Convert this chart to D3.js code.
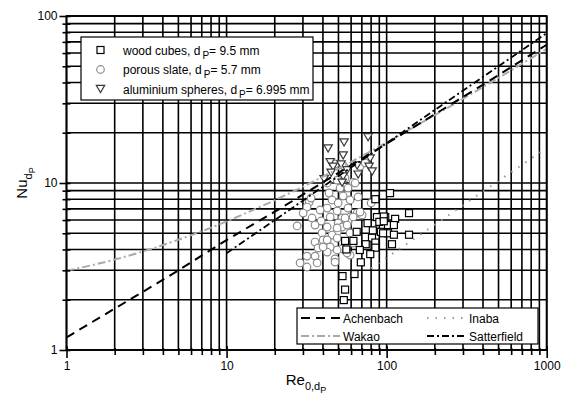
<!DOCTYPE html>
<html><head><meta charset="utf-8">
<script src="https://cdn.jsdelivr.net/npm/d3@7"></script>
<style>body{margin:0;background:#fff;} text{font-family:"Liberation Sans",Arial,sans-serif;fill:#000;}</style>
</head><body><svg id="c" width="566" height="396"></svg>
<script>
// ---- data ----
const woodRe = [105,138,85,87,98,113,76,90,102,111,65,82,92,102,111,138,81,55,62,74,85,108,85,56,68,79,69,53,63,55,54,96,96,95];
const woodNu = [8.7,6.6,8.0,6.25,6.25,6.1,5.75,5.85,5.6,5.6,5.1,5.2,5.1,5.0,4.9,4.9,4.7,4.5,4.5,4.3,4.4,4.3,4.1,4.0,3.97,3.75,3.35,2.77,2.85,2.3,1.99,6.3,5.9,5.0];

const slateRe = [47.6,54.2,68.3,73.4,42.5,49.1,55.0,61.8,43.7,51.2,57.4,53.5,66.4,59.1,45.6,32.8,49.8,80.0,33.7,31.8,42.5,57.4,38.4,49.1,30.1,65.4,34.2,44.4,52.7,59.1,70.3,68.3,39.0,57.4,49.8,27.6,35.7,42.5,52.7,49.1,84.8,39.5,45.6,59.1,40.1,35.7,42.5,49.1,44.4,37.3,52.7,61.8,59.1,31.8,35.7,47.6,42.5,49.1,56.6,28.8,36.8,31.8,47.6,40.1,55.0,61.8,56.6,49.1,63.6];
const slateNu = [13.0,12.6,12.6,13.2,10.0,10.4,10.7,10.1,8.71,9.33,9.33,8.36,8.25,7.91,7.91,7.69,7.59,7.59,8.13,7.18,7.08,7.08,6.89,6.80,6.61,6.61,6.17,6.26,6.17,6.26,6.43,6.70,5.92,5.84,5.76,5.53,5.60,5.45,5.45,5.09,5.23,5.02,4.88,5.02,4.56,4.43,4.56,4.68,4.14,4.08,4.03,4.37,3.70,3.65,3.65,3.51,3.86,3.97,3.81,3.32,3.32,3.14,3.36,4.14,6.17,6.26,5.60,5.38,10.0];

const alRe = [76.6,54.2,43.1,53.5,78.9,44.4,51.9,46.3,65.4,77.7,45.0,56.6,66.4,53.5,52.7,40.7,81.2];
const alNu = [18.9,17.6,16.2,14.7,14.1,13.4,13.0,12.6,12.8,12.6,11.6,12.0,11.3,11.0,10.1,10.6,11.8];

const achRe = [1,2,5,10,20,50,100,200,500,1000];
const achNu = [1.19,1.77,3.0,4.55,6.73,11.5,17.2,25.8,44.3,67.3];
const wakRe = [1,2,5,10,20,50,100,200,500,1000];
const wakNu = [2.98,3.48,4.57,5.89,7.89,12.2,17.5,25.5,42.6,63.6];
const satRe = [10,20,50,100,200,500,1000];
const satNu = [3.8,6.0,11.0,17.3,27.4,50.0,79];
const inaRe = [80,100,200,500,1000];
const inaNu = [3.08,3.57,5.63,10.3,16.2];

const xMajor = [1,10,100,1000];
const yMajor = [1,10,100];

// ---- drawing ----
const svg = d3.select("#c");
const x = d3.scaleLog().domain([1,1000]).range([66.5,546.7]);
const y = d3.scaleLog().domain([1,100]).range([350,16]);

const xAll = [], yAll = [];
[1,10,100].forEach(b => { for (let k=1;k<10;k++) xAll.push(b*k); });
xAll.push(1000);
[1,10].forEach(b => { for (let k=1;k<10;k++) yAll.push(b*k); });
yAll.push(100);

const grid = svg.append("g").attr("stroke","#000").attr("stroke-width",1.6);
grid.selectAll("line.v").data(xAll).join("line")
  .attr("x1",d=>x(d)).attr("x2",d=>x(d)).attr("y1",y(100)).attr("y2",y(1));
grid.selectAll("line.h").data(yAll).join("line")
  .attr("y1",d=>y(d)).attr("y2",d=>y(d)).attr("x1",x(1)).attr("x2",x(1000));

// curves
const line = (xs, ys) => d3.line().x((d,i)=>x(xs[i])).y((d,i)=>y(ys[i])).curve(d3.curveMonotoneX)(xs);
const curves = [
  {xs:wakRe, ys:wakNu, color:"#aaaaaa", dash:"8,3,2,3", w:2},
  {xs:inaRe, ys:inaNu, color:"#999999", dash:"1.5,7", w:2},
  {xs:satRe, ys:satNu, color:"#000", dash:"7,3,2,3", w:1.8},
  {xs:achRe, ys:achNu, color:"#000", dash:"9,6", w:2}
];

// markers
const mk = svg.append("g");
mk.selectAll("circle").data(slateRe).join("circle")
  .attr("cx",(d,i)=>x(d)).attr("cy",(d,i)=>y(slateNu[i])).attr("r",3.8)
  .attr("fill","#fff").attr("stroke","#8c8c8c").attr("stroke-width",1.2);
mk.selectAll("rect").data(woodRe).join("rect")
  .attr("x",(d,i)=>x(d)-3.5).attr("y",(d,i)=>y(woodNu[i])-3.5).attr("width",7).attr("height",7)
  .attr("fill","#fff").attr("stroke","#000").attr("stroke-width",1.2);
const tri = (cx,cy,s) => `M${cx-s},${cy-s*0.75}L${cx+s},${cy-s*0.75}L${cx},${cy+s*0.95}Z`;
mk.selectAll("path").data(alRe).join("path")
  .attr("d",(d,i)=>tri(x(d),y(alNu[i]),4.2))
  .attr("fill","#fff").attr("stroke","#3a3a3a").attr("stroke-width",1.2);

curves.forEach(c => {
  svg.append("path").attr("d",line(c.xs,c.ys)).attr("fill","none")
    .attr("stroke",c.color).attr("stroke-width",c.w).attr("stroke-dasharray",c.dash);
});

// frame
svg.append("rect").attr("x",x(1)).attr("y",y(100)).attr("width",x(1000)-x(1)).attr("height",y(1)-y(100))
  .attr("fill","none").attr("stroke","#000").attr("stroke-width",1.8);

// axes
const FF = "Liberation Sans, Arial, sans-serif";
const xa = svg.append("g").attr("transform",`translate(0,${y(1)})`)
  .call(d3.axisBottom(x).tickValues(xAll).tickSize(5).tickFormat(d => xMajor.includes(d)? String(d):""));
xa.select(".domain").remove();
xa.selectAll(".tick line").attr("stroke-width",1.6).attr("y1",d=>xMajor.includes(d)?-4:-2).attr("y2",d=>xMajor.includes(d)?8:5);
xa.selectAll(".tick text").attr("font-size",12).attr("font-family",FF).attr("dy","0.9em").attr("y",9);

const ya = svg.append("g").attr("transform",`translate(${x(1)},0)`)
  .call(d3.axisLeft(y).tickValues(yAll).tickSize(4).tickFormat(d => yMajor.includes(d)? String(d):""));
ya.select(".domain").remove();
ya.selectAll(".tick line").attr("stroke-width",1.6).attr("x1",d=>yMajor.includes(d)?-7:-4).attr("x2",4);
ya.selectAll(".tick text").attr("font-size",12).attr("font-family",FF).attr("x",-9);

// axis titles
const xt = svg.append("text").attr("x",306).attr("y",385).attr("text-anchor","middle").attr("font-size",15);
xt.append("tspan").text("Re");
xt.append("tspan").attr("dy",5).attr("font-size",11).text("0,d");
xt.append("tspan").attr("dy",3).attr("font-size",9).text("P");

const yt = svg.append("text").attr("transform","translate(27,183) rotate(-90)").attr("text-anchor","middle").attr("font-size",15);
yt.append("tspan").text("Nu");
yt.append("tspan").attr("dy",5).attr("font-size",11).text("d");
yt.append("tspan").attr("dy",3).attr("font-size",9).text("P");

// legend 1
const lg1 = svg.append("g");
lg1.append("rect").attr("x",81).attr("y",37).attr("width",232).attr("height",63)
  .attr("fill","#fff").attr("stroke","#000").attr("stroke-width",1.2);
const names = [["wood cubes, d","= 9.5 mm"],["porous slate, d","= 5.7 mm"],["aluminium spheres, d","= 6.995 mm"]];
names.forEach((n,i) => {
  const cy = 50 + i*19.5;
  if (i===0) lg1.append("rect").attr("x",97).attr("y",cy-3.5).attr("width",7).attr("height",7).attr("fill","#fff").attr("stroke","#000").attr("stroke-width",1.2);
  if (i===1) lg1.append("circle").attr("cx",100.5).attr("cy",cy).attr("r",3.8).attr("fill","#fff").attr("stroke","#8c8c8c").attr("stroke-width",1.2);
  if (i===2) lg1.append("path").attr("d",tri(100.5,cy-0.5,4.2)).attr("fill","#fff").attr("stroke","#3a3a3a").attr("stroke-width",1.2);
  const t = lg1.append("text").attr("x",123).attr("y",cy+4.5).attr("font-size",12);
  t.append("tspan").text(n[0]);
  t.append("tspan").attr("dx",2).attr("dy",4).attr("font-size",10).text("P");
  t.append("tspan").attr("dy",-4).text(n[1]);
});

// legend 2
const lg2 = svg.append("g");
lg2.append("rect").attr("x",297).attr("y",308).attr("width",241).attr("height",36)
  .attr("fill","#fff").attr("stroke","#000").attr("stroke-width",1.2);
const leg2 = [
  {name:"Achenbach", c:curves[3], lx:301, ly:318},
  {name:"Inaba", c:curves[1], lx:427, ly:318},
  {name:"Wakao", c:curves[0], lx:301, ly:336},
  {name:"Satterfield", c:curves[2], lx:427, ly:336}
];
leg2.forEach(l => {
  lg2.append("line").attr("x1",l.lx).attr("x2",l.lx+39).attr("y1",l.ly).attr("y2",l.ly)
    .attr("stroke",l.c.color).attr("stroke-width",l.c.w).attr("stroke-dasharray",l.c.dash);
  lg2.append("text").attr("x",l.lx+42).attr("y",l.ly+5).attr("font-size",12).text(l.name);
});
</script>
</body></html>
